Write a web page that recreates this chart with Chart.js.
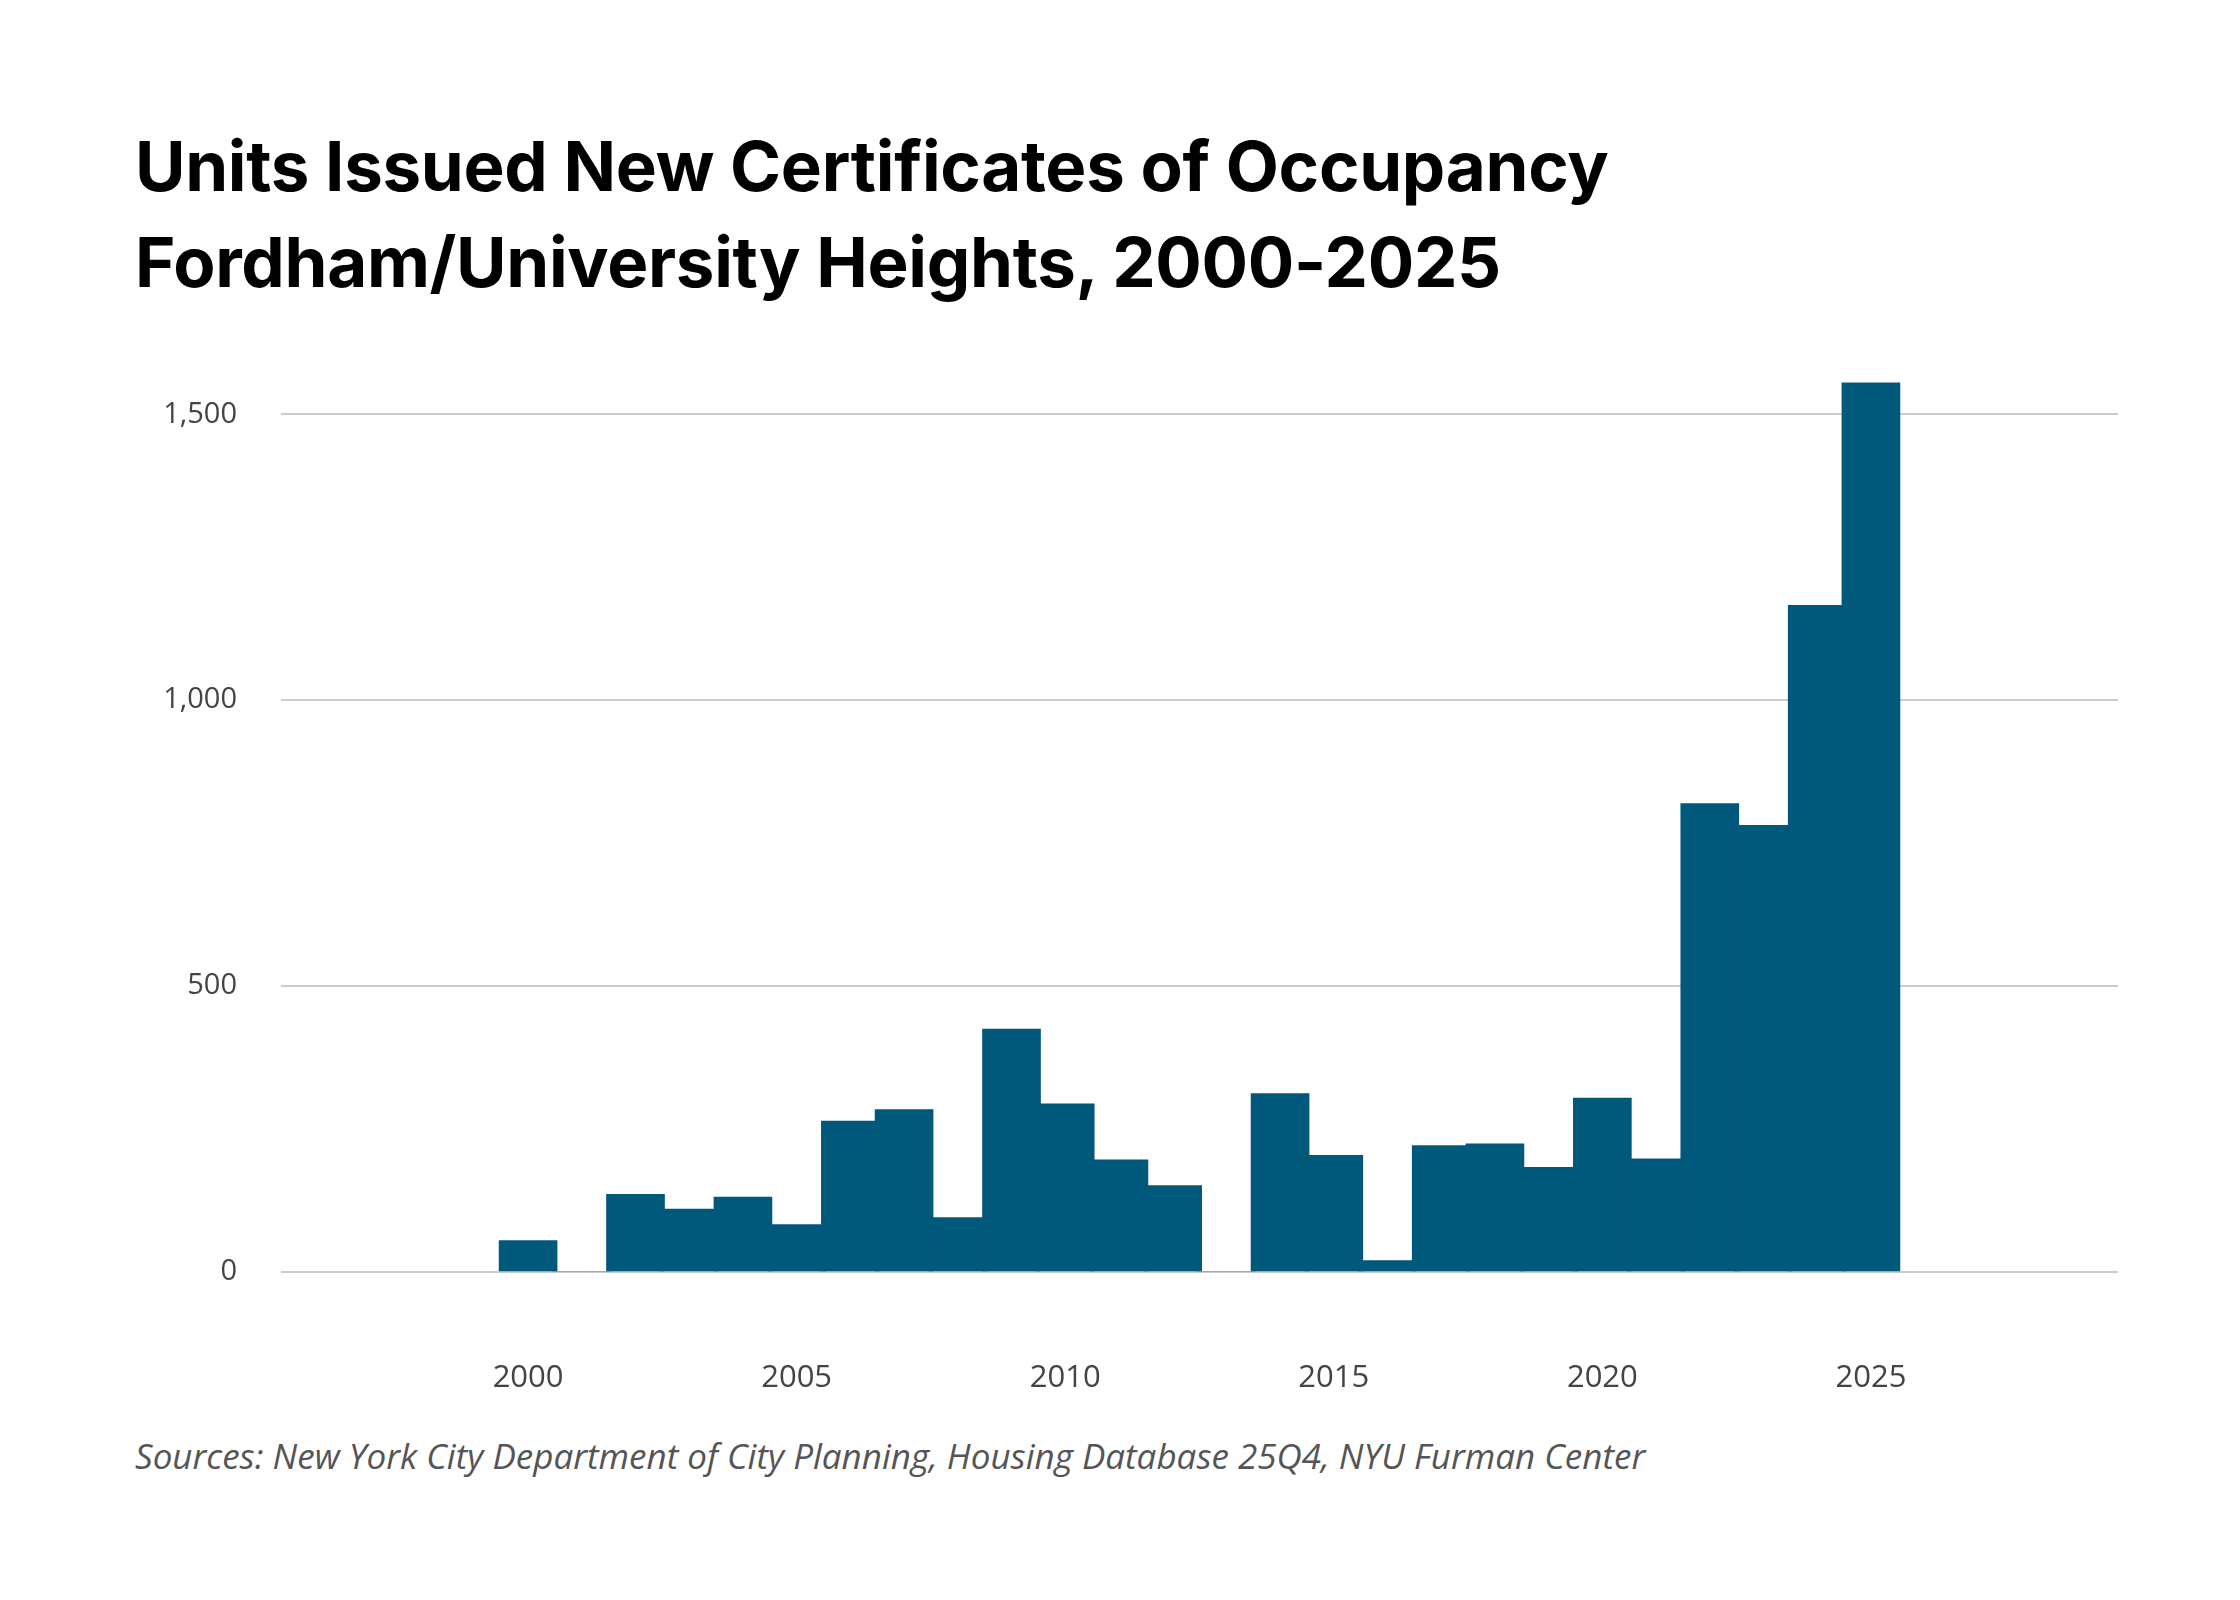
<!DOCTYPE html>
<html><head><meta charset="utf-8">
<script src="https://cdn.jsdelivr.net/npm/chart.js@4"></script>
<style>
body{margin:0;width:2240px;height:1600px;background:#fff;position:relative;overflow:hidden;font-family:"Open Sans",sans-serif}
#t{position:absolute;left:135px;top:118px;font-family:Inter,"Open Sans",sans-serif;font-weight:700;font-size:69px;line-height:96px;color:#000;letter-spacing:-0.3px}
#s{position:absolute;left:135px;top:1432px;font-style:italic;font-size:35px;color:#555}
#c{position:absolute;left:0;top:0}
</style></head><body>
<div id="t">Units Issued New Certificates of Occupancy<br>Fordham/University Heights, 2000-2025</div>
<div id="s">Sources: New York City Department of City Planning, Housing Database 25Q4, NYU Furman Center</div>
<canvas id="c" width="2240" height="1600"></canvas>
<script>
const years=[2000,2001,2002,2003,2004,2005,2006,2007,2008,2009,2010,2011,2012,2013,2014,2015,2016,2017,2018,2019,2020,2021,2022,2023,2024,2025];
const units=[55,0,136,110,131,83,264,284,95,425,294,196,151,0,312,204,20,221,224,183,304,198,819,781,1166,1555];
const yTicks=[0,500,1000,1500];
const xTicks=[2000,2005,2010,2015,2020,2025];
new Chart(document.getElementById('c'),{
type:'bar',
data:{datasets:[{data:years.map((y,i)=>({x:y,y:units[i]})),backgroundColor:'#00587a',barThickness:58}]},
options:{responsive:false,animation:false,
layout:{padding:{top:380,right:122,bottom:178,left:0}},
plugins:{legend:{display:false},tooltip:{enabled:false}},
scales:{
x:{type:'linear',min:1998.25,max:2026.75,grid:{display:false},border:{display:false},
 afterFit:s=>{s.height=150},
 afterBuildTicks:s=>{s.ticks=xTicks.map(v=>({value:v}))},
 ticks:{autoSkip:false,maxRotation:0,padding:80,color:'#444',font:{size:31,family:'"Open Sans"'},
 callback:v=>String(v)}},
y:{min:0,max:1560,border:{display:false},
 afterFit:s=>{s.width=281},
 afterBuildTicks:s=>{s.ticks=yTicks.map(v=>({value:v}))},
 grid:{color:'#cccccc',lineWidth:2,drawTicks:false},
 ticks:{padding:44,color:'#444',font:{size:29,family:'"Open Sans"'},callback:v=>v.toLocaleString('en-US')}}
}}});
</script></body></html>
